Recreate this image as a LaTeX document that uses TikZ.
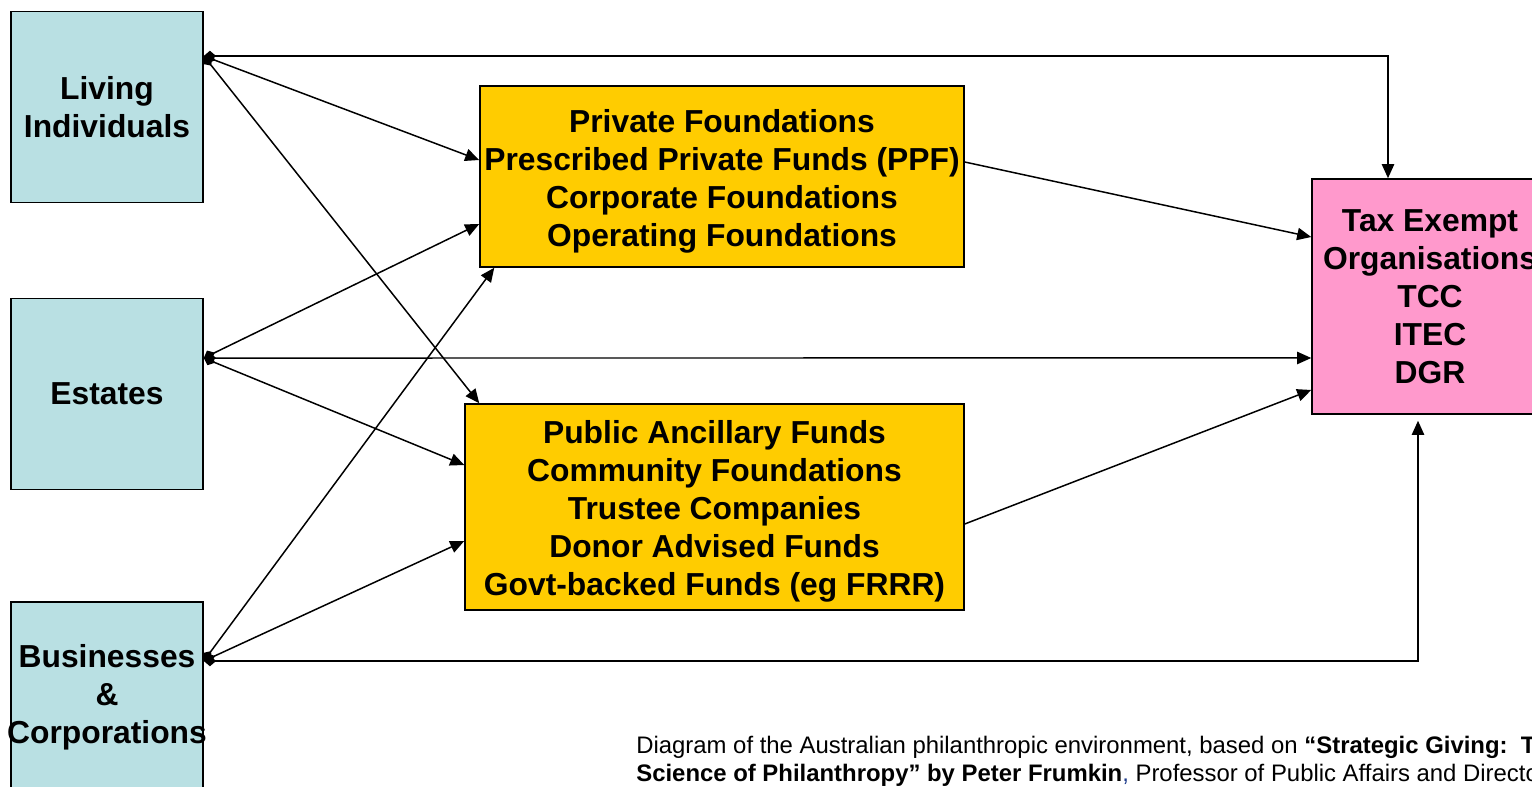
\documentclass[tikz,border=0pt]{standalone}
\usepackage{fontspec}
\setmainfont{Liberation Sans}
\usetikzlibrary{arrows.meta}

\definecolor{donorBlue}{RGB}{185,224,227}
\definecolor{fundGold}{RGB}{255,204,0}
\definecolor{charityPink}{RGB}{255,153,204}
\definecolor{linkBlue}{RGB}{30,60,140}

\begin{document}
\begin{tikzpicture}
[x=0.02cm, y=-0.02cm,
  boxDecorate/.style={shape=rectangle,draw,line width=0.9pt,inner sep=0pt,align=center,%
    font=\fontsize{18.1}{21.6}\selectfont\bfseries},%
  donorDecorate/.style={boxDecorate,fill=donorBlue,text width=3.84cm,minimum height=3.82cm},%
  fundDecorate/.style={boxDecorate,fill=fundGold},%
  fundText/.style={align=center,inner sep=0pt,yshift=-0.09cm,font=\fontsize{18.1}{21.6}\selectfont\bfseries},%
  lineDecorate/.style={{Diamond[length=7pt,width=6pt]}-{Triangle[length=8pt,width=7pt]},line width=0.85pt},%
  arrowDecorate/.style={-{Triangle[length=8pt,width=7pt]},line width=0.85pt}]
\useasboundingbox (0,0) rectangle (1532,787);
\clip (0,0) rectangle (1532,787);

%% donors on the left
\foreach \nodename/\y/\label in {
  living/107/{Living\\Individuals}, estates/394/{Estates},
  business/697.5/{Businesses\\\&\\\makebox[\linewidth]{Corporations}}}
{
  \node (\nodename) at (107,\y) [donorDecorate] {\label};
}

%% intermediaries
\node (private) at (722,176.5) [fundDecorate,minimum width=9.68cm,minimum height=3.62cm,
  label={[fundText]center:Private Foundations\\Prescribed Private Funds (PPF)\\Corporate Foundations\\Operating Foundations}] {};
\node (public) at (714.5,507) [fundDecorate,minimum width=9.98cm,minimum height=4.12cm,
  label={[fundText]center:Public Ancillary Funds\\Community Foundations\\Trustee Companies\\Donor Advised Funds\\Govt-backed Funds (eg FRRR)}] {};

%% recipients
\node (exempt) at (1430,296.5) [boxDecorate,fill=charityPink,minimum width=4.72cm,minimum height=4.70cm]
  {Tax Exempt\\Organisations\\TCC\\ITEC\\DGR};

%% source note
\node (note) at (636,761) [anchor=west,align=left,inner sep=0pt,font=\fontsize{13.6}{15.9}\selectfont]
  {Diagram of the Australian philanthropic environment, based on \textbf{“Strategic Giving:\ \ The Art and}\\
   \textbf{Science of Philanthropy” by Peter Frumkin}{\color{linkBlue},} Professor of Public Affairs and Director};

%% ports
\coordinate (livingOut) at ([yshift=1.02cm]living.east);
\coordinate (estatesOut) at ([yshift=0.72cm]estates.east);
\coordinate (businessOut) at ([yshift=0.73cm]business.east);
\coordinate (privateInA) at ([yshift=0.33cm]private.west);
\coordinate (privateInB) at ([yshift=-0.95cm]private.west);
\coordinate (privateInC) at ([xshift=0.3cm]private.south west);
\coordinate (publicInA) at ([xshift=0.3cm]public.north west);
\coordinate (publicInB) at ([yshift=0.84cm]public.west);
\coordinate (publicInC) at ([yshift=-0.68cm]public.west);
\coordinate (exemptInA) at ([yshift=1.19cm]exempt.west);
\coordinate (exemptInB) at ([yshift=-1.23cm]exempt.west);
\coordinate (exemptInC) at ([yshift=-1.87cm]exempt.west);

%% edges or lines
\path
\foreach \startnode/\endnode in {
  livingOut/privateInA, livingOut/publicInA, estatesOut/privateInB,
  estatesOut/exemptInB, estatesOut/publicInB, businessOut/privateInC,
  businessOut/publicInC}
{
  (\startnode) edge[lineDecorate] (\endnode)
};
\draw[lineDecorate] (livingOut) -| ([xshift=-0.84cm]exempt.north);
\draw[lineDecorate] (businessOut) -| ([xshift=-0.24cm,yshift=-0.12cm]exempt.south);
\draw[arrowDecorate] ([yshift=0.29cm]private.east) -- (exemptInA);
\draw[arrowDecorate] ([yshift=-0.34cm]public.east) -- (exemptInC);
\end{tikzpicture}
\end{document}
